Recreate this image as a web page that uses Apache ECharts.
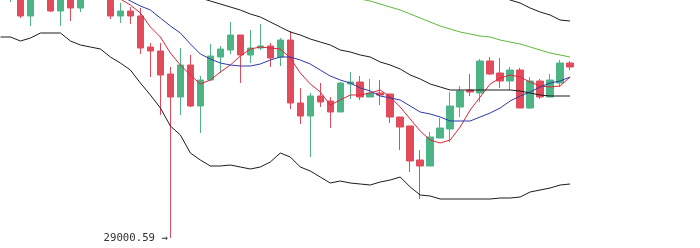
<!DOCTYPE html>
<html>
<head>
<meta charset="utf-8">
<script src="https://cdn.jsdelivr.net/npm/echarts@6/dist/echarts.min.js"></script>
<style>html,body{margin:0;padding:0;background:#fff;}#chart{width:700px;height:248px;}</style>
</head>
<body>
<div id="chart"></div>
<script>
// Candles: [open, close, lowest, highest]
var candles = [
  [30315, 30230, 30205, 30340],
  [30215, 30290, 30180, 30315],
  [30230, 30110, 30100, 30250],
  [30110, 30220, 30060, 30240],
  [30220, 30315, 30200, 30340],
  [30290, 30135, 30130, 30315],
  [30135, 30230, 30060, 30250],
  [30230, 30150, 30085, 30240],
  [30150, 30265, 30130, 30280],
  [30265, 30340, 30215, 30365],
  [30340, 30240, 30205, 30365],
  [30240, 30110, 30095, 30260],
  [30110, 30135, 30075, 30175],
  [30135, 30110, 30070, 30155],
  [30110, 29950, 29920, 30150],
  [29955, 29935, 29805, 29975],
  [29935, 29815, 29615, 29975],
  [29820, 29705, 29000.59, 29855],
  [29705, 29865, 29615, 29950],
  [29865, 29660, 29655, 29915],
  [29660, 29790, 29525, 29810],
  [29790, 29910, 29785, 29970],
  [29905, 29945, 29825, 29960],
  [29940, 30015, 29920, 30080],
  [30015, 29915, 29775, 30015],
  [29915, 29950, 29875, 30040],
  [29950, 29960, 29940, 30070],
  [29960, 29900, 29855, 29975],
  [29905, 29990, 29860, 30000],
  [29990, 29675, 29645, 30035],
  [29675, 29610, 29570, 29750],
  [29610, 29710, 29405, 29725],
  [29710, 29680, 29655, 29775],
  [29685, 29630, 29550, 29705],
  [29630, 29775, 29630, 29780],
  [29770, 29780, 29695, 29830],
  [29780, 29705, 29690, 29810],
  [29705, 29725, 29705, 29795],
  [29725, 29715, 29665, 29790],
  [29720, 29605, 29575, 29720],
  [29605, 29555, 29440, 29605],
  [29560, 29385, 29330, 29560],
  [29390, 29360, 29195, 29440],
  [29360, 29505, 29360, 29530],
  [29500, 29550, 29500, 29600],
  [29545, 29660, 29480, 29730],
  [29655, 29735, 29605, 29760],
  [29740, 29730, 29710, 29820],
  [29725, 29885, 29680, 29895],
  [29885, 29820, 29815, 29905],
  [29825, 29785, 29750, 29900],
  [29785, 29840, 29740, 29855],
  [29840, 29650, 29650, 29850],
  [29650, 29785, 29645, 29805],
  [29785, 29705, 29695, 29795],
  [29705, 29790, 29705, 29820],
  [29775, 29875, 29755, 29890],
  [29875, 29855, 29840, 29885]
];

var maShort = [30380,30390,30400,30390,30380,30390,30380,30365,30350,30330,30300,30250,30195,30165,30125,30055,30005,29925,29865,29815,29770,29790,29830,29865,29910,29945,29955,29950,29945,29900,29825,29770,29730,29665,29690,29715,29715,29725,29740,29705,29655,29595,29535,29490,29475,29490,29555,29640,29705,29770,29800,29815,29805,29780,29760,29755,29760,29805];

var maMid = [30450,30440,30430,30420,30410,30400,30390,30375,30355,30330,30300,30260,30215,30185,30160,30140,30100,30060,30025,29970,29920,29895,29875,29865,29860,29860,29870,29890,29905,29905,29890,29870,29840,29810,29790,29775,29750,29735,29710,29700,29690,29660,29630,29620,29605,29585,29585,29585,29605,29625,29650,29685,29710,29730,29755,29775,29785,29805];

var maLong = [30650,30640,30630,30620,30610,30600,30590,30580,30570,30560,30550,30540,30530,30520,30505,30490,30475,30460,30445,30430,30415,30400,30385,30370,30355,30340,30325,30310,30295,30280,30265,30255,30240,30230,30215,30205,30195,30185,30170,30155,30140,30120,30100,30080,30060,30045,30030,30020,30010,30005,29990,29980,29970,29955,29940,29925,29915,29905];

var bandMid = [30575,30565,30555,30545,30535,30520,30505,30490,30470,30450,30425,30400,30375,30350,30325,30300,30275,30250,30230,30215,30200,30185,30170,30155,30140,30120,30105,30080,30055,30030,30015,29995,29980,29965,29940,29930,29915,29905,29880,29865,29845,29815,29795,29770,29755,29740,29740,29740,29740,29740,29740,29740,29735,29725,29715,29710,29710,29710];

var bandUpper = [31115,31130,31140,31120,31090,31080,31065,31040,31015,30980,30940,30890,30865,30850,30870,30890,30915,30940,30950,30990,31005,31000,30980,30950,30930,30895,30855,30790,30690,30665,30670,30650,30640,30630,30590,30580,30555,30540,30510,30480,30440,30400,30365,30330,30300,30280,30260,30245,30235,30225,30210,30190,30175,30150,30130,30115,30090,30085];

var bandLower = [30005,30005,29985,30000,30025,30025,30025,29985,29965,29955,29945,29905,29875,29840,29775,29715,29650,29560,29515,29425,29390,29360,29360,29365,29355,29345,29355,29380,29425,29405,29355,29335,29305,29275,29285,29275,29270,29265,29280,29290,29305,29255,29215,29210,29195,29195,29195,29195,29195,29195,29200,29200,29205,29230,29240,29250,29265,29270];

// Category labels (hourly slots, 71 in the visible window)
var categories = [];
for (var i = 0; i < 71; i++) {
  var d = new Date(Date.UTC(2023, 5, 10, 0) + i * 3600000);
  categories.push(d.toISOString().slice(5, 13).replace('T', ' ') + ':00');
}

var chart = echarts.init(document.getElementById('chart'), null, {renderer: 'canvas'});
function lineSeries(name, data, color) {
  return {
    name: name, type: 'line', data: data, showSymbol: false, symbol: 'none',
    smooth: false, lineStyle: {width: 1, color: color}, itemStyle: {color: color},
    emphasis: {disabled: true}, clip: true, z: 3
  };
}
chart.setOption({
  animation: false,
  backgroundColor: '#ffffff',
  grid: {left: 0.5, top: 0, right: 0, bottom: 0, containLabel: false},
  xAxis: {type: 'category', data: categories, show: false, boundaryGap: false},
  yAxis: {type: 'value', min: 28950, max: 30190, show: false, splitLine: {show: false}},
  series: [
    {
      name: 'K', type: 'candlestick', data: candles, barWidth: 7, clip: true,
      itemStyle: {color: '#4db486', color0: '#e14b5b', borderColor: '#4db486', borderColor0: '#e14b5b', borderWidth: 1},
      markPoint: {
        symbol: 'circle', symbolSize: 1,
        itemStyle: {color: 'rgba(0,0,0,0)'},
        data: [{type: 'min', valueDim: 'lowest'}],
        label: {
          show: true, position: 'left', distance: 2,
          formatter: function (p) { return p.value + ' →'; },
          color: '#333', fontSize: 10.7, fontFamily: 'DejaVu Sans Mono, monospace'
        }
      }
    },
    lineSeries('MA5', maShort, '#e0243a'),
    lineSeries('MA10', maMid, '#2b3aa8'),
    lineSeries('MA30', maLong, '#62b83a'),
    lineSeries('UP', bandUpper, '#1c1c1c'),
    lineSeries('MB', bandMid, '#1c1c1c'),
    lineSeries('DN', bandLower, '#1c1c1c')
  ]
});
</script>
</body>
</html>
